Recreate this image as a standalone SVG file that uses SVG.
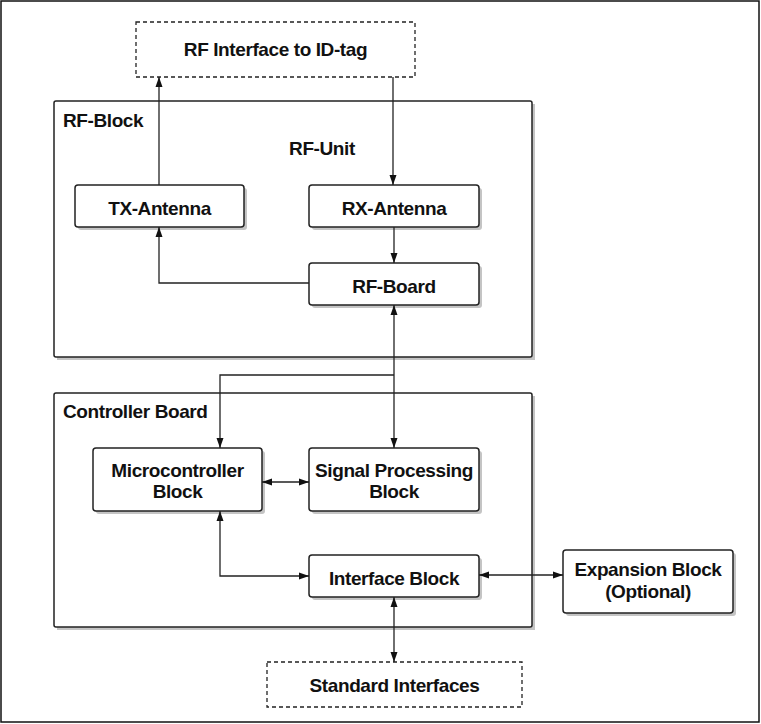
<svg xmlns="http://www.w3.org/2000/svg" width="761" height="724" viewBox="0 0 761 724">
<style>
text{font-family:"Liberation Sans",Arial,sans-serif;font-weight:bold;font-size:19px;fill:#111;letter-spacing:-0.4px}
.c{text-anchor:middle}
.box{fill:#fff;stroke:#222;stroke-width:1.5}
.shadow{fill:#c4c4c4}
.dash{fill:#fff;stroke:#222;stroke-width:1.3;stroke-dasharray:4 3}
.ln{fill:none;stroke:#222;stroke-width:1.3}
</style>
<defs>
<marker id="ah" viewBox="0 0 10 10" refX="10" refY="5" markerWidth="10" markerHeight="10" markerUnits="userSpaceOnUse" orient="auto-start-reverse">
<path d="M0,1.5 L10,5 L0,8.5 Z" fill="#111"/>
</marker>
</defs>
<rect x="1" y="1" width="758" height="721" fill="none" stroke="#111" stroke-width="1.5"/>

<g id="rf-block">
<rect class="shadow" x="57" y="104" width="478" height="256"/>
<rect x="54" y="101" width="478" height="256" fill="#fff" stroke="#222" stroke-width="1.5" rx="2"/>
<text x="63" y="127">RF-Block</text>
<text class="c" x="322" y="155">RF-Unit</text>
</g>
<g id="controller-board">
<rect class="shadow" x="57" y="396" width="478" height="234"/>
<rect x="54" y="393" width="478" height="234" fill="#fff" stroke="#222" stroke-width="1.5" rx="2"/>
<text x="63" y="418">Controller Board</text>
</g>

<g id="rf-interface">
<rect class="dash" x="136" y="22" width="279" height="55"/>
<text class="c" x="275.5" y="56">RF Interface to ID-tag</text>
</g>
<g id="tx-antenna">
<rect class="shadow" x="78" y="188" width="169" height="42" rx="3"/>
<rect class="box" x="75" y="185" width="169" height="42" rx="3"/>
<text class="c" x="159.5" y="215">TX-Antenna</text>
</g>
<g id="rx-antenna">
<rect class="shadow" x="312" y="188" width="170" height="42" rx="3"/>
<rect class="box" x="309" y="185" width="170" height="42" rx="3"/>
<text class="c" x="394" y="215">RX-Antenna</text>
</g>
<g id="rf-board">
<rect class="shadow" x="312" y="266" width="170" height="42" rx="3"/>
<rect class="box" x="309" y="263" width="170" height="42" rx="3"/>
<text class="c" x="394" y="293">RF-Board</text>
</g>
<g id="microcontroller">
<rect class="shadow" x="96" y="451" width="169" height="63" rx="3"/>
<rect class="box" x="93" y="448" width="169" height="63" rx="3"/>
<text class="c" x="177.5" y="477">Microcontroller</text>
<text class="c" x="177.5" y="498">Block</text>
</g>
<g id="signal-processing">
<rect class="shadow" x="312" y="451" width="170" height="63" rx="3"/>
<rect class="box" x="309" y="448" width="170" height="63" rx="3"/>
<text class="c" x="394" y="477">Signal Processing</text>
<text class="c" x="394" y="498">Block</text>
</g>
<g id="interface-block">
<rect class="shadow" x="312" y="558" width="170" height="42" rx="3"/>
<rect class="box" x="309" y="555" width="170" height="42" rx="3"/>
<text class="c" x="394" y="585">Interface Block</text>
</g>
<g id="expansion-block">
<rect class="shadow" x="566" y="553" width="170" height="63" rx="3"/>
<rect class="box" x="563" y="550" width="170" height="63" rx="3"/>
<text class="c" x="648" y="576">Expansion Block</text>
<text class="c" x="648" y="598">(Optional)</text>
</g>
<g id="standard-interfaces">
<rect class="dash" x="267" y="662" width="255" height="45"/>
<text class="c" x="394.5" y="692">Standard Interfaces</text>
</g>

<g id="connectors">
<path class="ln" d="M159,185 V77" marker-end="url(#ah)"/>
<path class="ln" d="M393,77 V185" marker-end="url(#ah)"/>
<path class="ln" d="M394,227 V263" marker-end="url(#ah)"/>
<path class="ln" d="M309,283 H159 V227" marker-end="url(#ah)"/>
<path class="ln" d="M394,305 V448" marker-start="url(#ah)" marker-end="url(#ah)"/>
<path class="ln" d="M394,375 H220 V448" marker-end="url(#ah)"/>
<path class="ln" d="M262,482 H309" marker-start="url(#ah)" marker-end="url(#ah)"/>
<path class="ln" d="M220,511 V576 H309" marker-start="url(#ah)" marker-end="url(#ah)"/>
<path class="ln" d="M479,575 H563" marker-start="url(#ah)" marker-end="url(#ah)"/>
<path class="ln" d="M394,597 V662" marker-start="url(#ah)" marker-end="url(#ah)"/>
</g>
</svg>
